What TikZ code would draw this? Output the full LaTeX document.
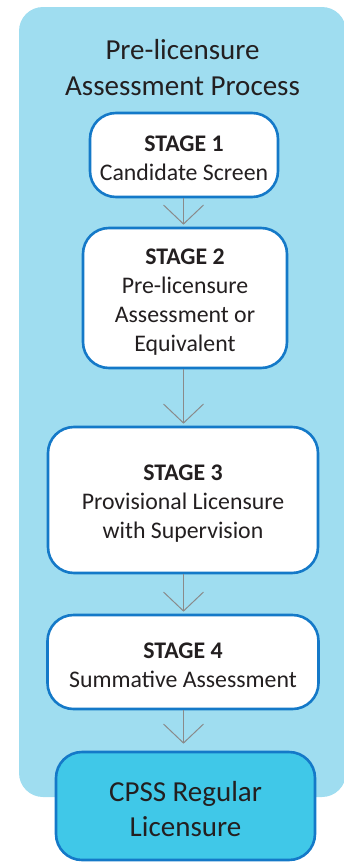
\documentclass[tikz,border=0pt]{standalone}
\usepackage{fontspec}
\setmainfont{Carlito}
\usetikzlibrary{arrows.meta}
\definecolor{panelfill}{HTML}{9FDDF0}
\definecolor{boxline}{HTML}{1479C8}
\definecolor{finalfill}{HTML}{40C8E8}
\definecolor{inkdark}{HTML}{231F20}
\definecolor{flowgray}{HTML}{8A8A8A}
% a tall invisible strut that lowers the text block a little inside its box
\newcommand{\toplift}[1]{\rule{0pt}{#1}}
\tikzset{
  stagebox/.style={draw=boxline, line width=2.6pt, fill=white, rounded corners=26pt,
    align=center, text=inkdark, inner sep=0pt,
    font=\fontsize{23.8}{29}\selectfont},
  finalbox/.style={stagebox, fill=finalfill, font=\fontsize{29}{35}\selectfont},
  flow/.style={draw=flowgray, line width=1pt,
    -{Straight Barb[length=19pt,width=40pt,line width=1pt]}, shorten >=2pt},
}
\begin{document}
\begin{tikzpicture}[x=1pt,y=-1pt]
  \useasboundingbox (0,0) rectangle (343,862);
  % background panel
  \fill[panelfill, rounded corners=24pt] (19,7) rectangle (346,797);
  \node[text=inkdark, align=center, font=\fontsize{29}{36}\selectfont]
    (title) at (182.5,68) {Pre-licensure\\Assessment Process};
  % stages
  \node[stagebox, minimum width=188pt, minimum height=84pt] (s1) at (184,155)
    {\toplift{23pt}\textbf{STAGE 1}\\Candidate Screen};
  \node[stagebox, minimum width=204pt, minimum height=140pt] (s2) at (185,298)
    {\toplift{23pt}\textbf{STAGE 2}\\Pre-licensure\\Assessment or\\Equivalent};
  \node[stagebox, minimum width=270pt, minimum height=146pt] (s3) at (183,500)
    {\toplift{23pt}\textbf{STAGE 3}\\Provisional Licensure\\with Supervision};
  \node[stagebox, minimum width=271pt, minimum height=94pt] (s4) at (183,662)
    {\toplift{23pt}\textbf{STAGE 4}\\Summative Assessment};
  \node[finalbox, minimum width=259pt, minimum height=108pt] (fin) at (185.5,806)
    {\toplift{27pt}CPSS Regular\\Licensure};
  % connectors
  \draw[flow] (s1.south -| 183.5,0) -- (s2.north -| 183.5,0);
  \draw[flow] (s2.south -| 183.5,0) -- (s3.north -| 183.5,0);
  \draw[flow] (s3.south -| 183.5,0) -- (s4.north -| 183.5,0);
  \draw[flow, shorten >=7pt] (s4.south -| 183.5,0) -- (fin.north -| 183.5,0);
\end{tikzpicture}
\end{document}
